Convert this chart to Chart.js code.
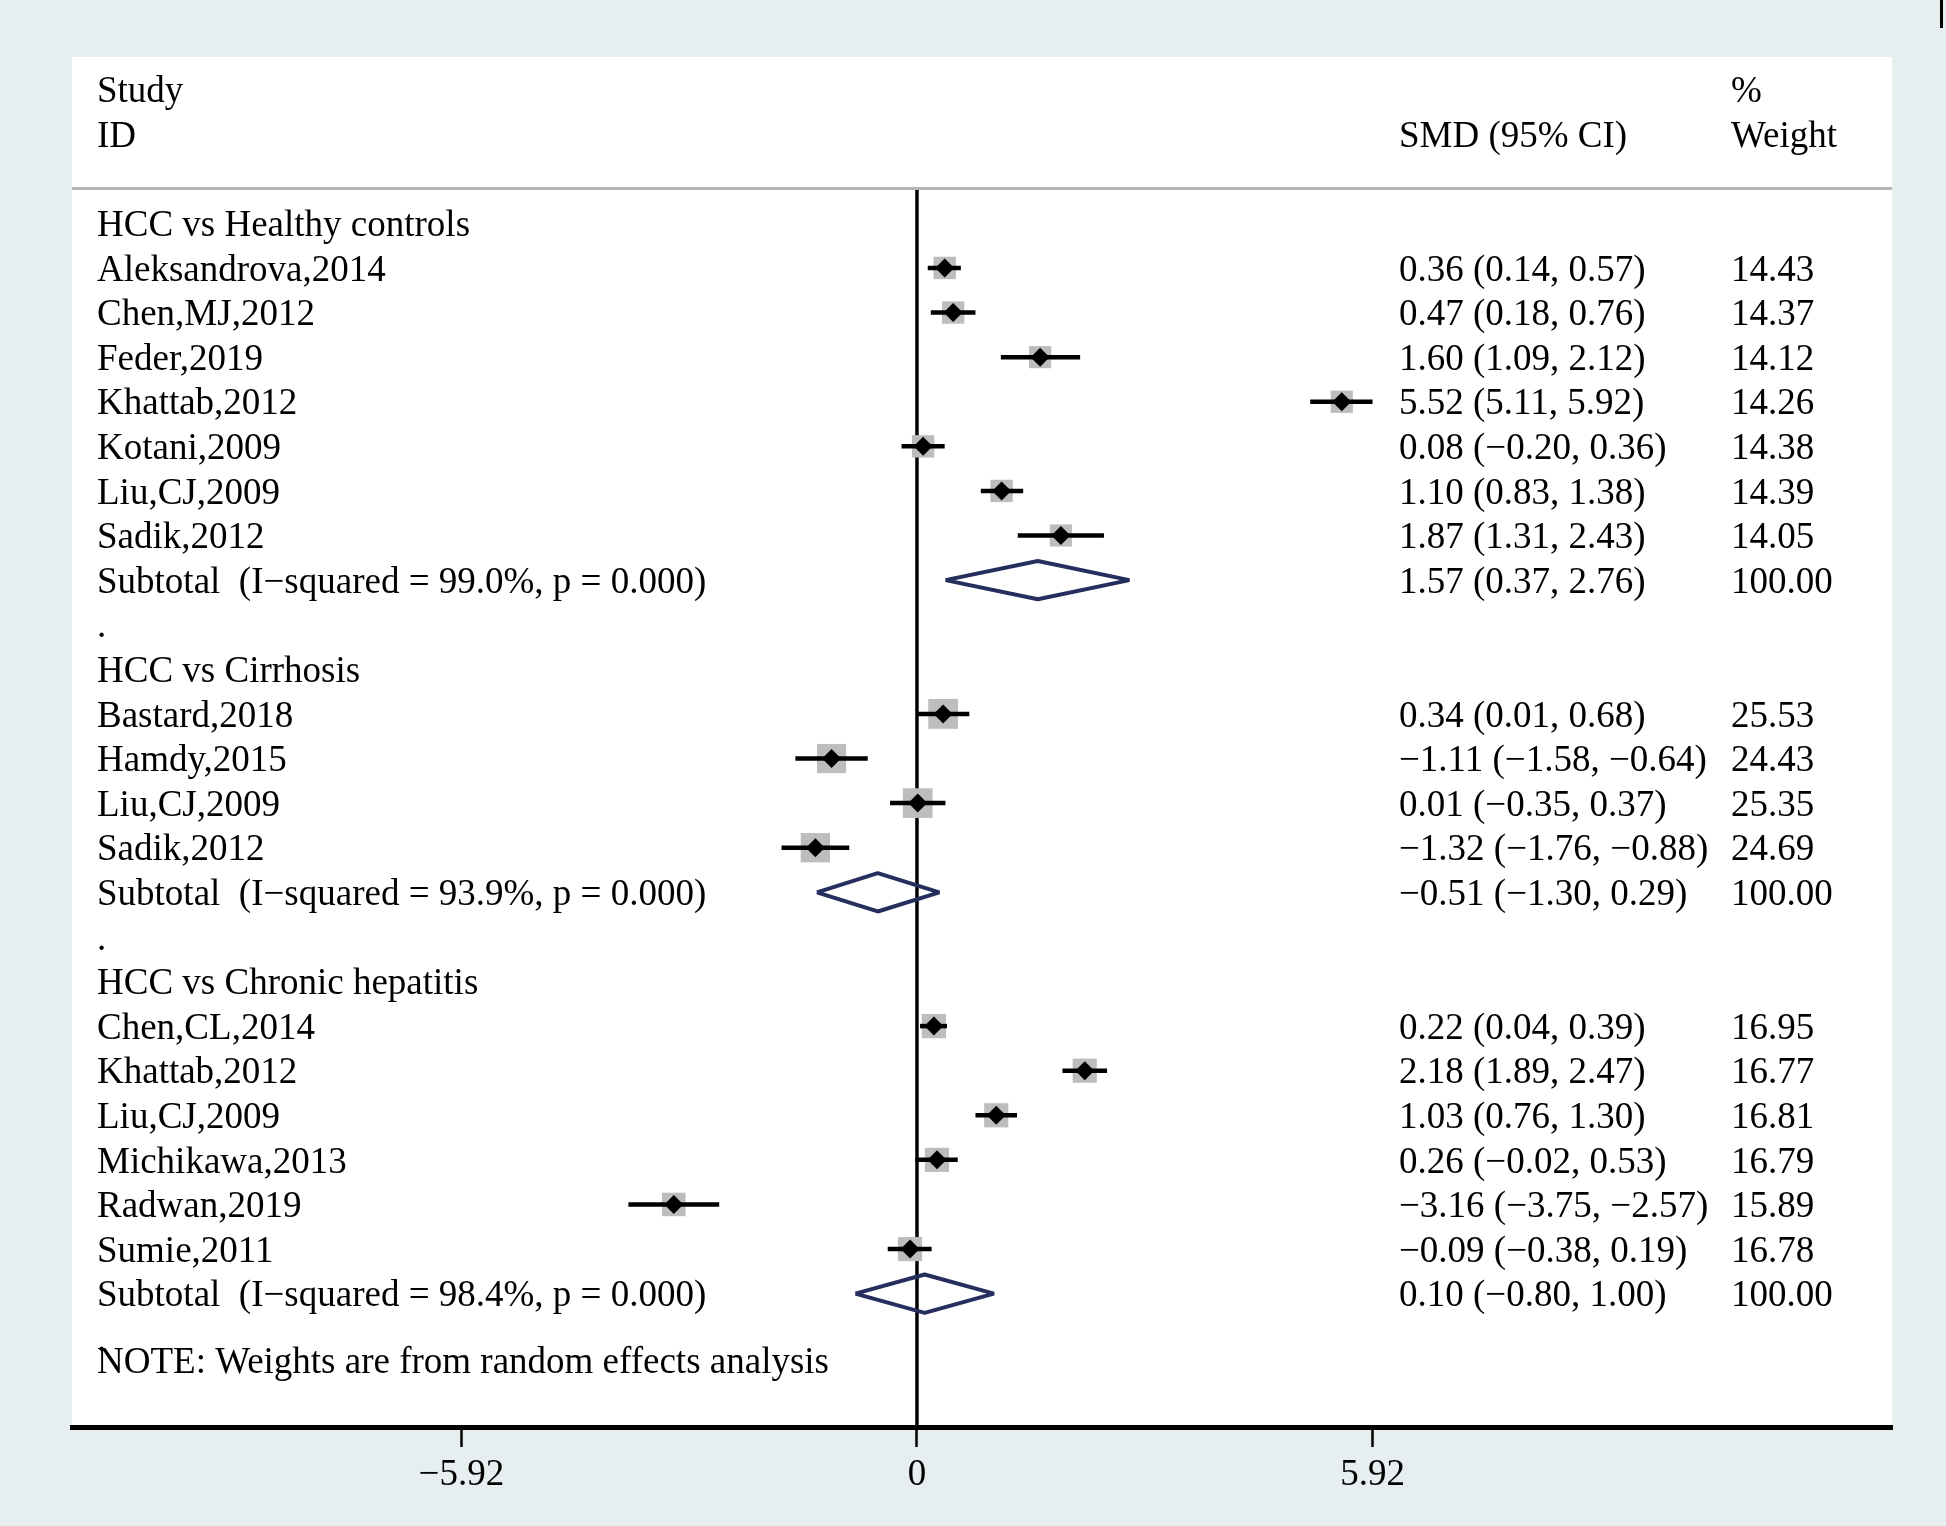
<!DOCTYPE html>
<html>
<head>
<meta charset="utf-8">
<script src="https://cdn.jsdelivr.net/npm/chart.js@4.4.1/dist/chart.umd.min.js"></script>
<style>
html,body{margin:0;padding:0;background:#e6eef0;}
#wrap{position:relative;width:1946px;height:1526px;overflow:hidden;}
canvas{display:block;}
#mark{position:absolute;left:1940px;top:0;width:3px;height:28px;background:#000;}
</style>
</head>
<body>
<div id="wrap"><canvas id="c" width="1946" height="1526"></canvas><div id="mark"></div></div>
<script>
// ---------- DATA ----------
const headerLeft = ["Study", "ID"];
const headerSMD = "SMD (95% CI)";
const headerWeight = ["%", "Weight"];

const groupTitles = ["HCC vs Healthy controls", "HCC vs Cirrhosis", "HCC vs Chronic hepatitis"];
const groupRows = [0, 10, 17];

const studyLabels = [
  "Aleksandrova,2014", "Chen,MJ,2012", "Feder,2019", "Khattab,2012", "Kotani,2009", "Liu,CJ,2009", "Sadik,2012",
  "Bastard,2018", "Hamdy,2015", "Liu,CJ,2009", "Sadik,2012",
  "Chen,CL,2014", "Khattab,2012", "Liu,CJ,2009", "Michikawa,2013", "Radwan,2019", "Sumie,2011"
];
const studyRows = [1, 2, 3, 4, 5, 6, 7, 11, 12, 13, 14, 18, 19, 20, 21, 22, 23];
const studySMD = [0.36, 0.47, 1.60, 5.52, 0.08, 1.10, 1.87, 0.34, -1.11, 0.01, -1.32, 0.22, 2.18, 1.03, 0.26, -3.16, -0.09];
const studyLower = [0.14, 0.18, 1.09, 5.11, -0.20, 0.83, 1.31, 0.01, -1.58, -0.35, -1.76, 0.04, 1.89, 0.76, -0.02, -3.75, -0.38];
const studyUpper = [0.57, 0.76, 2.12, 5.92, 0.36, 1.38, 2.43, 0.68, -0.64, 0.37, -0.88, 0.39, 2.47, 1.30, 0.53, -2.57, 0.19];
const studyWeight = [14.43, 14.37, 14.12, 14.26, 14.38, 14.39, 14.05, 25.53, 24.43, 25.35, 24.69, 16.95, 16.77, 16.81, 16.79, 15.89, 16.78];

const subtotalLabels = [
  "Subtotal  (I\u2212squared = 99.0%, p = 0.000)",
  "Subtotal  (I\u2212squared = 93.9%, p = 0.000)",
  "Subtotal  (I\u2212squared = 98.4%, p = 0.000)"
];
const subtotalRows = [8, 15, 24];
const subtotalSMD = [1.57, -0.51, 0.10];
const subtotalLower = [0.37, -1.30, -0.80];
const subtotalUpper = [2.76, 0.29, 1.00];
const subtotalWeight = [100.00, 100.00, 100.00];

const spacerRows = [9, 16, 25];
const noteText = "NOTE: Weights are from random effects analysis";
const noteRow = 25.5;

const xTickValues = [-5.92, 0, 5.92];
const xTickLabels = ["\u22125.92", "0", "5.92"];

// ---------- LAYOUT / STYLE ----------
const X_MIN = -10.98, X_MAX = 12.67;
const Y_MIN = -3.73, Y_MAX = 26.99;
const HEADER_LINE_ROW = -0.78;
const COL_LABEL = 97, COL_SMD = 1399, COL_W = 1731;
const TEXT_DY = 3;
const FONT = '37px "Liberation Serif"';
const NAVY = '#252f5e';

const fmt = v => v.toFixed(2).replace('-', '\u2212');
const ciText = (e, l, u) => `${fmt(e)} (${fmt(l)}, ${fmt(u)})`;

const datasets = [];

// header separator line and zero line
datasets.push({
  data: [{x: X_MIN, y: HEADER_LINE_ROW}, {x: X_MAX, y: HEADER_LINE_ROW}],
  showLine: true, borderColor: '#b5b5b5', borderWidth: 3, pointRadius: 0, order: 3
});
datasets.push({
  data: [{x: 0, y: HEADER_LINE_ROW}, {x: 0, y: Y_MAX}],
  showLine: true, borderColor: '#000', borderWidth: 3.5, pointRadius: 0, order: 3
});

// weight boxes
datasets.push({
  data: studyRows.map((r, i) => ({x: studySMD[i], y: r})),
  pointStyle: 'rect',
  pointRadius: studyWeight.map(w => 5.9 * Math.sqrt(w) / Math.SQRT2),
  pointHoverRadius: studyWeight.map(w => 5.9 * Math.sqrt(w) / Math.SQRT2),
  backgroundColor: '#bdbdbd', borderWidth: 0, order: 2
});

// confidence intervals
studyRows.forEach((r, i) => {
  datasets.push({
    data: [{x: studyLower[i], y: r}, {x: studyUpper[i], y: r}],
    showLine: true, borderColor: '#000', borderWidth: 4.5, pointRadius: 0,
    borderCapStyle: 'butt', order: 1
  });
});

// point estimates
datasets.push({
  data: studyRows.map((r, i) => ({x: studySMD[i], y: r})),
  pointStyle: 'rectRot', pointRadius: 9.5, pointHoverRadius: 9.5,
  backgroundColor: '#000', borderWidth: 0, order: 0
});

// subtotal diamonds
subtotalRows.forEach((r, i) => {
  const h = 0.43;
  datasets.push({
    data: [
      {x: subtotalLower[i], y: r}, {x: subtotalSMD[i], y: r - h},
      {x: subtotalUpper[i], y: r}, {x: subtotalSMD[i], y: r + h},
      {x: subtotalLower[i], y: r}
    ],
    showLine: true, borderColor: NAVY, borderWidth: 4, pointRadius: 0,
    borderJoinStyle: 'bevel', fill: false, tension: 0, order: 1
  });
});

const bgPlugin = {
  id: 'bg',
  beforeDraw(chart) {
    const {ctx, chartArea: a} = chart;
    ctx.save();
    ctx.fillStyle = '#e6eef0';
    ctx.fillRect(0, 0, chart.width, chart.height);
    ctx.fillStyle = '#ffffff';
    ctx.fillRect(a.left, a.top, a.right - a.left, a.bottom - a.top);
    ctx.restore();
  }
};

const textPlugin = {
  id: 'txt',
  afterDatasetsDraw(chart) {
    const {ctx} = chart;
    const ys = chart.scales.y;
    ctx.save();
    ctx.font = FONT;
    ctx.fillStyle = '#000';
    ctx.textBaseline = 'middle';
    ctx.textAlign = 'left';
    const put = (t, x, r) => ctx.fillText(t, x, ys.getPixelForValue(r) + TEXT_DY);
    put(headerLeft[0], COL_LABEL, -3);
    put(headerLeft[1], COL_LABEL, -2);
    put(headerSMD, COL_SMD, -2);
    put(headerWeight[0], COL_W, -3);
    put(headerWeight[1], COL_W, -2);
    groupTitles.forEach((t, i) => put(t, COL_LABEL, groupRows[i]));
    studyLabels.forEach((t, i) => {
      put(t, COL_LABEL, studyRows[i]);
      put(ciText(studySMD[i], studyLower[i], studyUpper[i]), COL_SMD, studyRows[i]);
      put(studyWeight[i].toFixed(2), COL_W, studyRows[i]);
    });
    subtotalLabels.forEach((t, i) => {
      put(t, COL_LABEL, subtotalRows[i]);
      put(ciText(subtotalSMD[i], subtotalLower[i], subtotalUpper[i]), COL_SMD, subtotalRows[i]);
      put(subtotalWeight[i].toFixed(2), COL_W, subtotalRows[i]);
    });
    spacerRows.forEach(r => put('.', COL_LABEL, r));
    put(noteText, COL_LABEL, noteRow);
    ctx.restore();
  }
};

new Chart(document.getElementById('c'), {
  type: 'scatter',
  data: {datasets},
  plugins: [bgPlugin, textPlugin],
  options: {
    responsive: false,
    devicePixelRatio: 1,
    animation: false,
    events: [],
    layout: {padding: {left: 72, right: 54, top: 57, bottom: 0}},
    plugins: {legend: {display: false}, tooltip: {enabled: false}},
    scales: {
      x: {
        type: 'linear', min: X_MIN, max: X_MAX,
        afterBuildTicks(s) { s.ticks = xTickValues.map(v => ({value: v})); },
        afterFit(s) { s.height = 99; },
        ticks: {
          font: {family: 'Liberation Serif', size: 37}, color: '#000', padding: 6,
          autoSkip: false, maxRotation: 0, minRotation: 0,
          callback: (v, i) => xTickLabels[i]
        },
        grid: {drawOnChartArea: false, drawTicks: true, tickLength: 20, tickWidth: 2.5, tickColor: '#000'},
        border: {display: true, color: '#000', width: 5}
      },
      y: {type: 'linear', display: false, reverse: true, min: Y_MIN, max: Y_MAX}
    }
  }
});
</script>
</body>
</html>
